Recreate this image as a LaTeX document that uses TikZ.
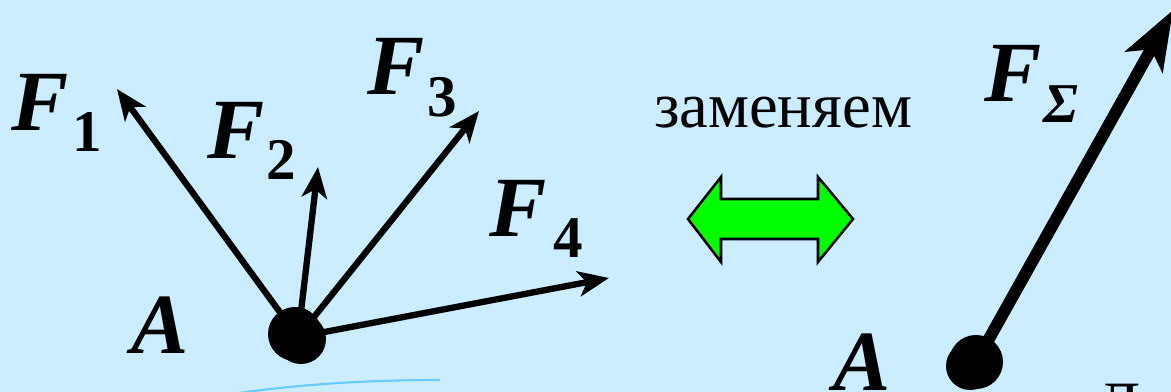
\documentclass[tikz,border=0pt]{standalone}
\usepackage{fontspec}
\setmainfont{Liberation Serif}
\usetikzlibrary{arrows.meta}
\definecolor{bgblue}{RGB}{204,236,255}
\definecolor{curveblue}{RGB}{102,204,255}
\definecolor{arrgreen}{RGB}{0,255,0}
\tikzset{
  force/.style={line width=4.5pt,-{Stealth[length=22pt,width=18pt,inset=6pt]}},
  bigforce/.style={line width=8.5pt,-{Stealth[length=42pt,width=30pt,inset=10pt]}},
  lbl/.style={inner sep=0pt,anchor=base west,font=\fontsize{61}{61}\selectfont\bfseries\itshape},
  sub/.style={inner sep=0pt,anchor=base west,font=\fontsize{42}{42}\selectfont\bfseries},
  dotnode/.style={circle,fill=black,inner sep=0pt,minimum size=1.35cm},
}
\begin{document}
\begin{tikzpicture}[x=0.025cm,y=-0.025cm]
\fill[bgblue] (0,0) rectangle (1171,392);
\useasboundingbox (0,0) rectangle (1171,392);
\clip (0,0) rectangle (1171,392);
% light blue curve
\draw[curveblue,line width=1.5pt] (232,394) .. controls (300,384) and (370,380) .. (440,380);
% left group
\coordinate (t1) at (117,89);
\coordinate (t2) at (318,167);
\coordinate (t3) at (479,111);
\coordinate (t4) at (609,278);
\coordinate (A0) at (298,337);
\draw[force] (A0) -- (t1);
\draw[force] (A0) -- (t2);
\draw[force] (A0) -- (t3);
\draw[force] (A0) -- (t4);
\node[dotnode] (dotA) at (295,334) {};
\fill (301,339) circle (25);
\node[lbl] (F1) at (11,131) {F};
\node[sub] (s1) at (72,152) {1};
\node[lbl] (F2) at (207,159) {F};
\node[sub] (s2) at (266,180) {2};
\node[lbl] (F3) at (367,95) {F};
\node[sub] (s3) at (427,117) {3};
\node[lbl] (F4) at (489,237) {F};
\node[sub] (s4) at (553,258) {4};
\node[lbl] (A) at (131,354) {A};
% middle
\node[inner sep=0pt,anchor=base,font=\fontsize{46}{46}\selectfont] (zam) at (783,128) {заменяем};
\draw[line width=1.8pt,fill=arrgreen] (688,219) -- (721,177) -- (721,199) -- (818,199) -- (818,177) -- (853,219) -- (818,262) -- (818,239) -- (721,239) -- (721,262) -- cycle;
% right group
\node[dotnode] (dotB) at (976,362) {};
\fill (970,366) circle (24);
\coordinate (tS) at (1173,10);
\draw[bigforce] (dotB.center) -- (tS);
\node[lbl] (FS) at (984,102) {F};
\node[inner sep=0pt,anchor=base west,font=\fontsize{40}{40}\selectfont\bfseries\itshape] (sS) at (1043,123) {Σ};
\node[lbl] (AB) at (833,391) {A};
\node[inner sep=0pt,anchor=base west,font=\fontsize{46}{46}\selectfont] (D) at (1096,427) {Д};
\end{tikzpicture}
\end{document}
